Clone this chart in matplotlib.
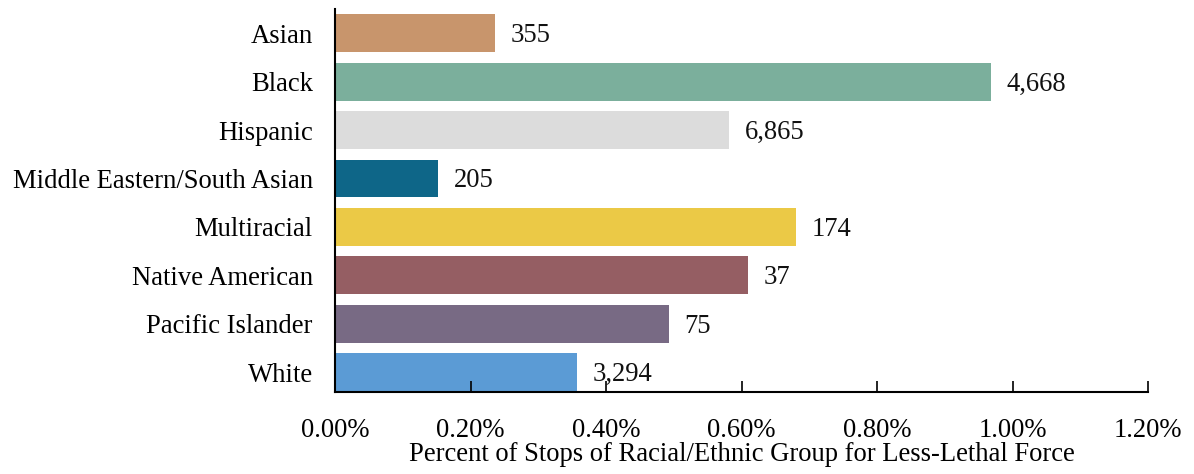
import matplotlib
matplotlib.use("Agg")
import matplotlib.pyplot as plt
from matplotlib.ticker import FuncFormatter

categories = ["Asian", "Black", "Hispanic", "Middle Eastern/South Asian",
              "Multiracial", "Native American", "Pacific Islander", "White"]
percents = [0.236, 0.968, 0.582, 0.152, 0.680, 0.610, 0.493, 0.357]
counts = ["355", "4,668", "6,865", "205", "174", "37", "75", "3,294"]
colors = ["#C8956C", "#7BAF9C", "#DCDCDC", "#0E6688",
          "#EBC946", "#955E63", "#786A84", "#5B9BD5"]
xticks = [0.0, 0.2, 0.4, 0.6, 0.8, 1.0, 1.2]
xlabel = "Percent of Stops of Racial/Ethnic Group for Less-Lethal Force"

plt.rcParams['font.family'] = ['Liberation Serif', 'DejaVu Serif']
fs = 19.2

fig = plt.figure(figsize=(11.94, 4.74), dpi=100)
ax = fig.add_axes([0.2806, 0.173, 0.9615 - 0.2806, 0.981 - 0.173])

ypos = list(range(len(categories)))
ax.barh(ypos, percents, height=0.78, color=colors)
for y, v, c in zip(ypos, percents, counts):
    ax.text(v + 0.023, y + 0.05, c, va='center', ha='left', fontsize=fs, color='#111111')

ax.set_ylim(7.41, -0.5)
ax.set_xlim(0, 1.2)
ax.set_yticks(ypos)
ax.set_yticklabels(categories, fontsize=fs)
ax.set_xticks(xticks)
ax.xaxis.set_major_formatter(FuncFormatter(lambda x, p: f"{x:.2f}%"))
ax.tick_params(axis='x', direction='in', length=8, width=1.2, pad=19, labelsize=fs)
ax.tick_params(axis='y', length=0, pad=16, labelsize=fs)
ax.set_xlabel(xlabel, fontsize=fs, labelpad=-1)

for s in ['top', 'right']:
    ax.spines[s].set_visible(False)
for s in ['left', 'bottom']:
    ax.spines[s].set_linewidth(1.5)
    ax.spines[s].set_color('black')

fig.savefig("out.png", dpi=100)
